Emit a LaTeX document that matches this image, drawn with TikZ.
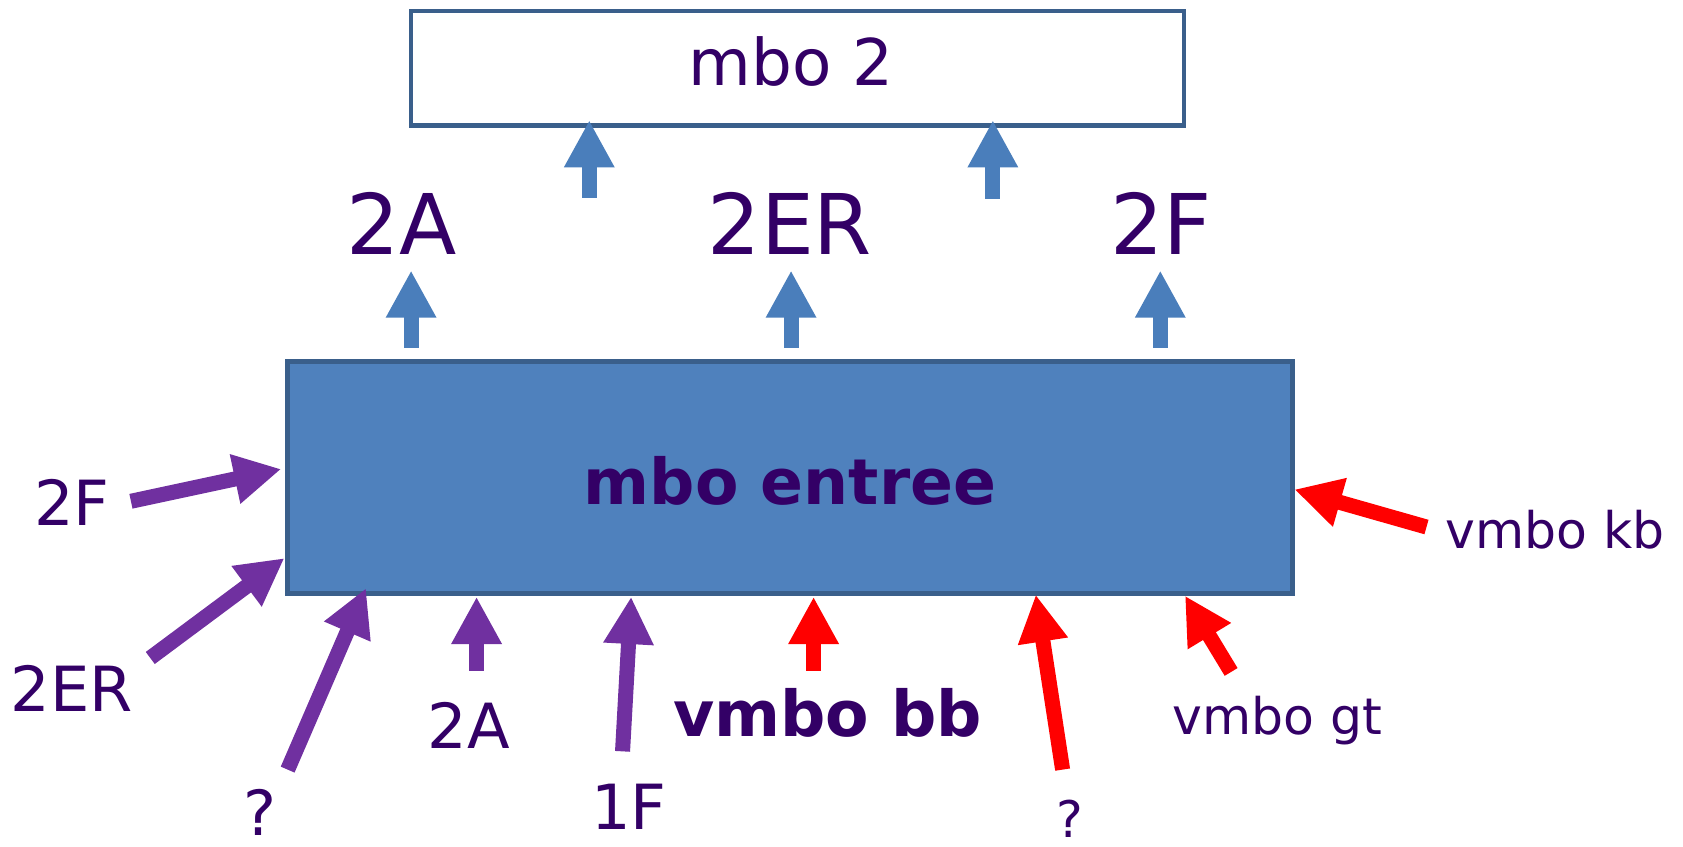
\documentclass[tikz,border=0pt]{standalone}
\usepackage{fontspec}
\setmainfont{DejaVu Sans}
\usetikzlibrary{arrows.meta}
\definecolor{txt}{HTML}{330066}
\definecolor{boxfill}{HTML}{4F81BD}
\definecolor{boxline}{HTML}{3A5F8B}
\definecolor{barrow}{HTML}{4A7EBB}
\definecolor{parrow}{HTML}{7030A0}
\definecolor{rarrow}{HTML}{FF0000}
\begin{document}
\begin{tikzpicture}[x=0.5pt,y=-0.5pt,
  lbl/.style={text=txt, inner sep=0pt, anchor=base},
  big/.style={lbl, font=\fontsize{39pt}{39pt}\selectfont},
  mid/.style={lbl, font=\fontsize{29pt}{29pt}\selectfont},
  midb/.style={lbl, font=\fontsize{29.5pt}{29.5pt}\selectfont\bfseries},
  small/.style={lbl, font=\fontsize{23.5pt}{23.5pt}\selectfont},
  blk/.style={line width=7pt, -{Triangle[width=22pt,length=22pt]}},
  barr/.style={blk, draw=barrow},
  parr/.style={blk, draw=parrow},
  rarr/.style={blk, draw=rarrow},
  boxstyle/.style={draw=boxline, inner sep=0pt}
]
\useasboundingbox (0,0) rectangle (1568,789);

% boxes
\node[boxstyle, line width=2pt, fill=white, minimum width=360pt, minimum height=53.5pt] (top) at (743,63.5) {};
\node[boxstyle, line width=2.5pt, fill=boxfill, minimum width=468pt, minimum height=108pt] (main) at (736,445) {};

% texts
\node[lbl, font=\fontsize{30pt}{30pt}\selectfont] (toptxt) at (737,80) {mbo 2};
\node[midb] (maintxt) at (736,470) {mbo entree};
\node[big] (oA) at (374,237) {2A};
\node[big] (oER) at (736,237) {2ER};
\node[big] (oF) at (1082,237) {2F};
\node[mid] (iF) at (67,490) {2F};
\node[mid] (iER) at (67,663) {2ER};
\node[mid] (iQ) at (242,778) {?};
\node[mid] (iA) at (437,697) {2A};
\node[mid] (i1F) at (586,773) {1F};
\node[midb] (vbb) at (771,686) {vmbo bb};
\node[small] (rQ) at (997,780) {?};
\node[small] (vgt) at (1190,684) {vmbo gt};
\node[small] (vkb) at (1449,511) {vmbo kb};

% arrow end points
\coordinate (s1) at (549,184); \coordinate (e1) at (549,112);
\coordinate (s2) at (925,185); \coordinate (e2) at (925,112);
\coordinate (s3) at (383,324); \coordinate (e3) at (383,252);
\coordinate (s4) at (737,324); \coordinate (e4) at (737,252);
\coordinate (s5) at (1081,324); \coordinate (e5) at (1081,252);
\coordinate (s6) at (122,467); \coordinate (e6) at (262,437);
\coordinate (s7) at (140,613); \coordinate (e7) at (265,520);
\coordinate (s8) at (268,717); \coordinate (e8) at (341,548);
\coordinate (s9) at (444,625); \coordinate (e9) at (444,556);
\coordinate (s10) at (580,700); \coordinate (e10) at (588,556);
\coordinate (s11) at (758,625); \coordinate (e11) at (758,556);
\coordinate (s12) at (990,717); \coordinate (e12) at (965,554);
\coordinate (s13) at (1147,626); \coordinate (e13) at (1104,555);
\coordinate (s14) at (1329,491); \coordinate (e14) at (1206,456);

% blue arrows
\draw[barr] (s1) -- (e1);
\draw[barr] (s2) -- (e2);
\draw[barr] (s3) -- (e3);
\draw[barr] (s4) -- (e4);
\draw[barr] (s5) -- (e5);
% purple arrows
\draw[parr] (s6) -- (e6);
\draw[parr] (s7) -- (e7);
\draw[parr] (s8) -- (e8);
\draw[parr] (s9) -- (e9);
\draw[parr] (s10) -- (e10);
% red arrows
\draw[rarr] (s11) -- (e11);
\draw[rarr] (s12) -- (e12);
\draw[rarr] (s13) -- (e13);
\draw[rarr] (s14) -- (e14);
\end{tikzpicture}
\end{document}
